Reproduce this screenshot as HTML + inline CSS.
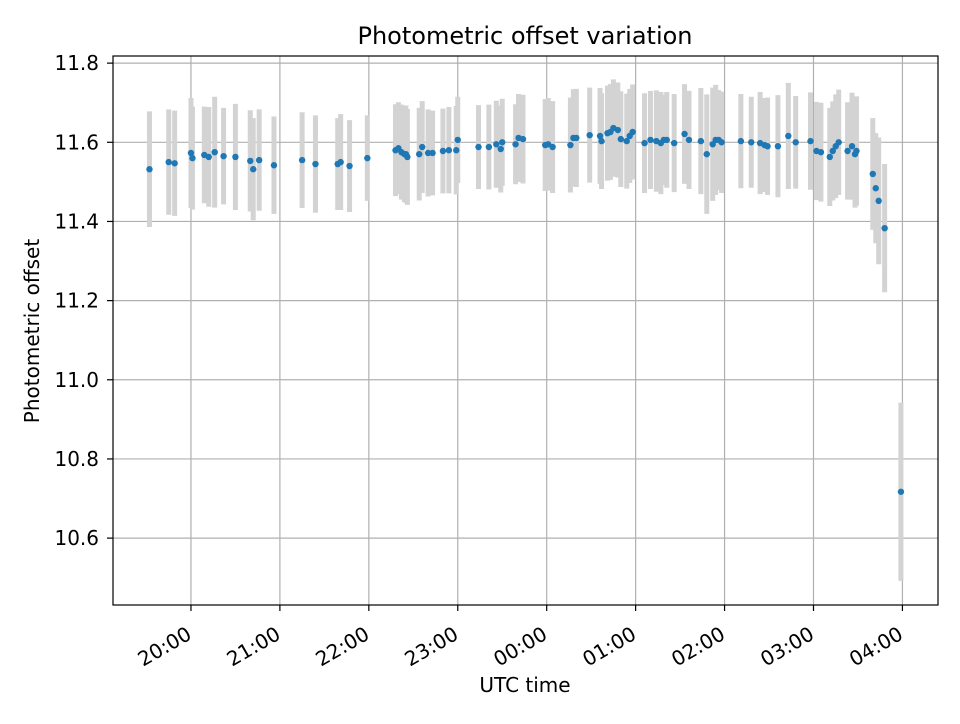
<!DOCTYPE html>
<html><head><meta charset="utf-8"><style>
body{margin:0;background:#fff;font-family:"DejaVu Sans","Liberation Sans",sans-serif}
svg text{font-family:"DejaVu Sans","Liberation Sans",sans-serif}
</style></head><body>
<svg id="chart" width="960" height="720" xmlns="http://www.w3.org/2000/svg">
<rect width="960" height="720" fill="#fff"/>
<text x="525" y="44" font-size="24" text-anchor="middle">Photometric offset variation</text>
<text x="525" y="692" font-size="20" text-anchor="middle">UTC time</text>
<text transform="translate(39,331) rotate(-90)" font-size="20" text-anchor="middle">Photometric offset</text>
<g id="grid"></g>
<g id="bars"></g>
<g id="pts"></g>
<rect x="113" y="56" width="825" height="549" fill="none" stroke="#000" stroke-width="1.2"/>
<g id="ticks"></g>
</svg>
<script>
// minutes after 20:00 UTC
const times=[-28,-15,-11,0,1,9,12,16,22,30,40,42,46,56,75,84,99,101,107,119,138,140,142,144,145,146,154,156,160,163,170,174,179,180,194,201,206,209,210,219,221,224,239,241,244,256,258,260,269,276,277,281,283,285,288,290,294,296,298,306,310,314,317,319,321,326,333,336,344,348,352,354,356,358,371,378,384,387,389,396,403,408,418,422,425,431,433,435,437,443,446,448,449,460,462,464,468,479];
const offsets=[11.532,11.550,11.547,11.573,11.560,11.568,11.563,11.575,11.565,11.563,11.553,11.532,11.555,11.542,11.555,11.545,11.545,11.550,11.540,11.560,11.580,11.585,11.575,11.570,11.570,11.563,11.570,11.588,11.573,11.573,11.578,11.580,11.580,11.606,11.588,11.588,11.595,11.583,11.600,11.595,11.611,11.608,11.593,11.595,11.588,11.593,11.611,11.611,11.618,11.616,11.603,11.623,11.626,11.636,11.631,11.608,11.603,11.616,11.626,11.598,11.606,11.603,11.598,11.606,11.606,11.598,11.621,11.606,11.603,11.570,11.595,11.606,11.606,11.600,11.603,11.600,11.598,11.593,11.590,11.590,11.616,11.600,11.603,11.578,11.575,11.563,11.578,11.590,11.600,11.578,11.590,11.570,11.578,11.520,11.484,11.452,11.383,10.717];
const errors=[0.146,0.133,0.133,0.139,0.130,0.122,0.126,0.140,0.122,0.134,0.128,0.129,0.128,0.123,0.121,0.123,0.116,0.121,0.116,0.108,0.116,0.116,0.120,0.121,0.123,0.121,0.117,0.116,0.110,0.107,0.107,0.109,0.112,0.109,0.106,0.107,0.110,0.110,0.110,0.101,0.111,0.112,0.116,0.117,0.116,0.120,0.123,0.124,0.120,0.121,0.121,0.120,0.121,0.123,0.120,0.121,0.120,0.119,0.120,0.126,0.124,0.128,0.129,0.114,0.121,0.124,0.126,0.124,0.134,0.151,0.143,0.139,0.126,0.128,0.119,0.115,0.129,0.119,0.123,0.129,0.134,0.117,0.123,0.124,0.125,0.124,0.125,0.131,0.133,0.123,0.135,0.135,0.138,0.141,0.139,0.160,0.162,0.225];
const xTickMinutes=[0,60,120,180,240,300,360,420,480];
const xTickLabels=["20:00","21:00","22:00","23:00","00:00","01:00","02:00","03:00","04:00"];
const yTicks=[10.6,10.8,11.0,11.2,11.4,11.6,11.8];
const yTickLabels=["10.6","10.8","11.0","11.2","11.4","11.6","11.8"];

const L=113,R=938,T=56,B=605;
const xMin=-52.6,xMax=504,yMin=10.431,yMax=11.818;
const xs=m=>L+(m-xMin)/(xMax-xMin)*(R-L);
const ys=v=>B-(v-yMin)/(yMax-yMin)*(B-T);
const NS="http://www.w3.org/2000/svg";
function mk(tag,attrs,parent){const e=document.createElementNS(NS,tag);for(const k in attrs)e.setAttribute(k,attrs[k]);parent.appendChild(e);return e;}
const grid=document.getElementById('grid'),ticks=document.getElementById('ticks'),bars=document.getElementById('bars'),pts=document.getElementById('pts');
xTickMinutes.forEach((m,i)=>{
  const x=xs(m);
  const g=mk('line',{x1:x,x2:x,y1:T,y2:B,stroke:'#b0b0b0','stroke-width':1.2},grid);
  
  
  const t=mk('line',{x1:x,x2:x,y1:B,y2:B+6,stroke:'#000','stroke-width':1.2},ticks);
  
  
  const ax=x+2,ay=B+33;
  const lb=mk('text',{x:ax,y:ay,'font-size':20,'text-anchor':'end',transform:`rotate(-30 ${ax} ${ay})`},ticks);
  lb.textContent=xTickLabels[i];
  
  
});
yTicks.forEach((v,i)=>{
  const y=ys(v);
  const g=mk('line',{x1:L,x2:R,y1:y,y2:y,stroke:'#b0b0b0','stroke-width':1.2},grid);
  
  
  const t=mk('line',{x1:L-6,x2:L,y1:y,y2:y,stroke:'#000','stroke-width':1.2},ticks);
  
  
  const lb=mk('text',{x:L-14,y:y+7,'font-size':20,'text-anchor':'end'},ticks);
  lb.textContent=yTickLabels[i];
  
  
});
times.forEach((m,i)=>{
  const x=xs(m);
  const b=mk('line',{x1:x,x2:x,y1:ys(offsets[i]+errors[i]),y2:ys(offsets[i]-errors[i]),stroke:'#d3d3d3','stroke-width':5},bars);
  
  
});
times.forEach((m,i)=>{
  const c=mk('circle',{cx:xs(m),cy:ys(offsets[i]),r:3.2,fill:'#1f77b4'},pts);
  
  
});
</script>
</body></html>
